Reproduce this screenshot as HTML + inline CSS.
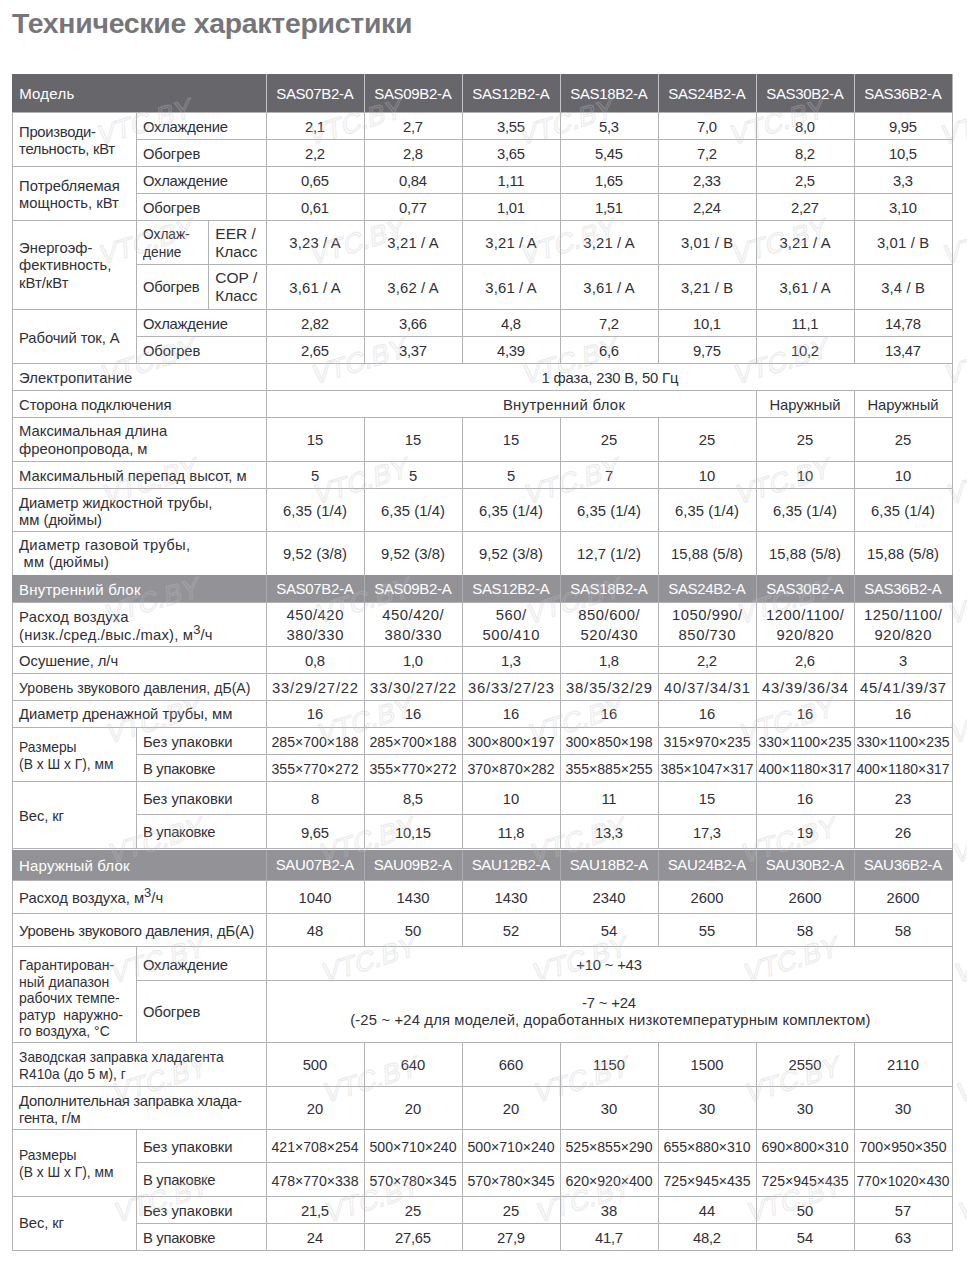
<!DOCTYPE html>
<html><head><meta charset="utf-8"><title>Технические характеристики</title>
<style>
html,body{margin:0;padding:0;background:#fff;}
body{width:967px;height:1277px;position:relative;overflow:hidden;font-family:"Liberation Sans",sans-serif;}
i{position:absolute;display:block;}
.wm{position:absolute;left:0;top:0;}
.t{position:absolute;font-size:14.8px;white-space:nowrap;}
.t sup{font-size:13px;line-height:0;vertical-align:6px;letter-spacing:0;}
h1{position:absolute;left:12px;top:6px;margin:0;font-size:28.4px;font-weight:bold;color:#75757a;letter-spacing:-0.26px;line-height:34px;white-space:nowrap;}
</style></head><body>
<h1>Технические характеристики</h1>
<i style="left:12px;top:74px;width:941px;height:38px;background:#67666b"></i>
<i style="left:266px;top:74px;width:1px;height:38px;background:#c4c4c8"></i>
<i style="left:364px;top:74px;width:1px;height:38px;background:#c4c4c8"></i>
<i style="left:462px;top:74px;width:1px;height:38px;background:#c4c4c8"></i>
<i style="left:560px;top:74px;width:1px;height:38px;background:#c4c4c8"></i>
<i style="left:658px;top:74px;width:1px;height:38px;background:#c4c4c8"></i>
<i style="left:756px;top:74px;width:1px;height:38px;background:#c4c4c8"></i>
<i style="left:854px;top:74px;width:1px;height:38px;background:#c4c4c8"></i>
<i style="left:12px;top:112px;width:1px;height:1139px;background:#b2b2b5"></i>
<i style="left:952px;top:74px;width:1px;height:1177px;background:#b2b2b5"></i>
<i style="left:12px;top:112px;width:941px;height:1px;background:#b2b2b5"></i>
<i style="left:136px;top:139px;width:817px;height:1px;background:#b2b2b5"></i>
<i style="left:136px;top:112px;width:1px;height:55px;background:#b2b2b5"></i>
<i style="left:266px;top:112px;width:1px;height:55px;background:#b2b2b5"></i>
<i style="left:364px;top:112px;width:1px;height:55px;background:#b2b2b5"></i>
<i style="left:462px;top:112px;width:1px;height:55px;background:#b2b2b5"></i>
<i style="left:560px;top:112px;width:1px;height:55px;background:#b2b2b5"></i>
<i style="left:658px;top:112px;width:1px;height:55px;background:#b2b2b5"></i>
<i style="left:756px;top:112px;width:1px;height:55px;background:#b2b2b5"></i>
<i style="left:854px;top:112px;width:1px;height:55px;background:#b2b2b5"></i>
<i style="left:952px;top:112px;width:1px;height:55px;background:#b2b2b5"></i>
<i style="left:12px;top:166px;width:941px;height:1px;background:#b2b2b5"></i>
<i style="left:136px;top:193px;width:817px;height:1px;background:#b2b2b5"></i>
<i style="left:136px;top:166px;width:1px;height:55px;background:#b2b2b5"></i>
<i style="left:266px;top:166px;width:1px;height:55px;background:#b2b2b5"></i>
<i style="left:364px;top:166px;width:1px;height:55px;background:#b2b2b5"></i>
<i style="left:462px;top:166px;width:1px;height:55px;background:#b2b2b5"></i>
<i style="left:560px;top:166px;width:1px;height:55px;background:#b2b2b5"></i>
<i style="left:658px;top:166px;width:1px;height:55px;background:#b2b2b5"></i>
<i style="left:756px;top:166px;width:1px;height:55px;background:#b2b2b5"></i>
<i style="left:854px;top:166px;width:1px;height:55px;background:#b2b2b5"></i>
<i style="left:952px;top:166px;width:1px;height:55px;background:#b2b2b5"></i>
<i style="left:12px;top:220px;width:941px;height:1px;background:#b2b2b5"></i>
<i style="left:136px;top:264px;width:817px;height:1px;background:#b2b2b5"></i>
<i style="left:136px;top:220px;width:1px;height:90px;background:#b2b2b5"></i>
<i style="left:208px;top:220px;width:1px;height:90px;background:#b2b2b5"></i>
<i style="left:266px;top:220px;width:1px;height:90px;background:#b2b2b5"></i>
<i style="left:364px;top:220px;width:1px;height:90px;background:#b2b2b5"></i>
<i style="left:462px;top:220px;width:1px;height:90px;background:#b2b2b5"></i>
<i style="left:560px;top:220px;width:1px;height:90px;background:#b2b2b5"></i>
<i style="left:658px;top:220px;width:1px;height:90px;background:#b2b2b5"></i>
<i style="left:756px;top:220px;width:1px;height:90px;background:#b2b2b5"></i>
<i style="left:854px;top:220px;width:1px;height:90px;background:#b2b2b5"></i>
<i style="left:952px;top:220px;width:1px;height:90px;background:#b2b2b5"></i>
<i style="left:12px;top:309px;width:941px;height:1px;background:#b2b2b5"></i>
<i style="left:136px;top:336px;width:817px;height:1px;background:#b2b2b5"></i>
<i style="left:136px;top:309px;width:1px;height:55px;background:#b2b2b5"></i>
<i style="left:266px;top:309px;width:1px;height:55px;background:#b2b2b5"></i>
<i style="left:364px;top:309px;width:1px;height:55px;background:#b2b2b5"></i>
<i style="left:462px;top:309px;width:1px;height:55px;background:#b2b2b5"></i>
<i style="left:560px;top:309px;width:1px;height:55px;background:#b2b2b5"></i>
<i style="left:658px;top:309px;width:1px;height:55px;background:#b2b2b5"></i>
<i style="left:756px;top:309px;width:1px;height:55px;background:#b2b2b5"></i>
<i style="left:854px;top:309px;width:1px;height:55px;background:#b2b2b5"></i>
<i style="left:952px;top:309px;width:1px;height:55px;background:#b2b2b5"></i>
<i style="left:12px;top:363px;width:941px;height:1px;background:#b2b2b5"></i>
<i style="left:266px;top:363px;width:1px;height:28px;background:#b2b2b5"></i>
<i style="left:12px;top:390px;width:941px;height:1px;background:#b2b2b5"></i>
<i style="left:266px;top:390px;width:1px;height:28px;background:#b2b2b5"></i>
<i style="left:756px;top:390px;width:1px;height:28px;background:#b2b2b5"></i>
<i style="left:854px;top:390px;width:1px;height:28px;background:#b2b2b5"></i>
<i style="left:12px;top:417px;width:941px;height:1px;background:#b2b2b5"></i>
<i style="left:266px;top:417px;width:1px;height:45px;background:#b2b2b5"></i>
<i style="left:364px;top:417px;width:1px;height:45px;background:#b2b2b5"></i>
<i style="left:462px;top:417px;width:1px;height:45px;background:#b2b2b5"></i>
<i style="left:560px;top:417px;width:1px;height:45px;background:#b2b2b5"></i>
<i style="left:658px;top:417px;width:1px;height:45px;background:#b2b2b5"></i>
<i style="left:756px;top:417px;width:1px;height:45px;background:#b2b2b5"></i>
<i style="left:854px;top:417px;width:1px;height:45px;background:#b2b2b5"></i>
<i style="left:952px;top:417px;width:1px;height:45px;background:#b2b2b5"></i>
<i style="left:12px;top:461px;width:941px;height:1px;background:#b2b2b5"></i>
<i style="left:266px;top:461px;width:1px;height:28px;background:#b2b2b5"></i>
<i style="left:364px;top:461px;width:1px;height:28px;background:#b2b2b5"></i>
<i style="left:462px;top:461px;width:1px;height:28px;background:#b2b2b5"></i>
<i style="left:560px;top:461px;width:1px;height:28px;background:#b2b2b5"></i>
<i style="left:658px;top:461px;width:1px;height:28px;background:#b2b2b5"></i>
<i style="left:756px;top:461px;width:1px;height:28px;background:#b2b2b5"></i>
<i style="left:854px;top:461px;width:1px;height:28px;background:#b2b2b5"></i>
<i style="left:952px;top:461px;width:1px;height:28px;background:#b2b2b5"></i>
<i style="left:12px;top:488px;width:941px;height:1px;background:#b2b2b5"></i>
<i style="left:266px;top:488px;width:1px;height:44px;background:#b2b2b5"></i>
<i style="left:364px;top:488px;width:1px;height:44px;background:#b2b2b5"></i>
<i style="left:462px;top:488px;width:1px;height:44px;background:#b2b2b5"></i>
<i style="left:560px;top:488px;width:1px;height:44px;background:#b2b2b5"></i>
<i style="left:658px;top:488px;width:1px;height:44px;background:#b2b2b5"></i>
<i style="left:756px;top:488px;width:1px;height:44px;background:#b2b2b5"></i>
<i style="left:854px;top:488px;width:1px;height:44px;background:#b2b2b5"></i>
<i style="left:952px;top:488px;width:1px;height:44px;background:#b2b2b5"></i>
<i style="left:12px;top:531px;width:941px;height:1px;background:#b2b2b5"></i>
<i style="left:266px;top:531px;width:1px;height:45px;background:#b2b2b5"></i>
<i style="left:364px;top:531px;width:1px;height:45px;background:#b2b2b5"></i>
<i style="left:462px;top:531px;width:1px;height:45px;background:#b2b2b5"></i>
<i style="left:560px;top:531px;width:1px;height:45px;background:#b2b2b5"></i>
<i style="left:658px;top:531px;width:1px;height:45px;background:#b2b2b5"></i>
<i style="left:756px;top:531px;width:1px;height:45px;background:#b2b2b5"></i>
<i style="left:854px;top:531px;width:1px;height:45px;background:#b2b2b5"></i>
<i style="left:952px;top:531px;width:1px;height:45px;background:#b2b2b5"></i>
<i style="left:12px;top:575px;width:941px;height:27px;background:#929297"></i>
<i style="left:266px;top:575px;width:1px;height:27px;background:#acacb0"></i>
<i style="left:364px;top:575px;width:1px;height:27px;background:#acacb0"></i>
<i style="left:462px;top:575px;width:1px;height:27px;background:#acacb0"></i>
<i style="left:560px;top:575px;width:1px;height:27px;background:#acacb0"></i>
<i style="left:658px;top:575px;width:1px;height:27px;background:#acacb0"></i>
<i style="left:756px;top:575px;width:1px;height:27px;background:#acacb0"></i>
<i style="left:854px;top:575px;width:1px;height:27px;background:#acacb0"></i>
<i style="left:12px;top:602px;width:941px;height:1px;background:#b2b2b5"></i>
<i style="left:266px;top:602px;width:1px;height:45px;background:#b2b2b5"></i>
<i style="left:364px;top:602px;width:1px;height:45px;background:#b2b2b5"></i>
<i style="left:462px;top:602px;width:1px;height:45px;background:#b2b2b5"></i>
<i style="left:560px;top:602px;width:1px;height:45px;background:#b2b2b5"></i>
<i style="left:658px;top:602px;width:1px;height:45px;background:#b2b2b5"></i>
<i style="left:756px;top:602px;width:1px;height:45px;background:#b2b2b5"></i>
<i style="left:854px;top:602px;width:1px;height:45px;background:#b2b2b5"></i>
<i style="left:952px;top:602px;width:1px;height:45px;background:#b2b2b5"></i>
<i style="left:12px;top:646px;width:941px;height:1px;background:#b2b2b5"></i>
<i style="left:266px;top:646px;width:1px;height:28px;background:#b2b2b5"></i>
<i style="left:364px;top:646px;width:1px;height:28px;background:#b2b2b5"></i>
<i style="left:462px;top:646px;width:1px;height:28px;background:#b2b2b5"></i>
<i style="left:560px;top:646px;width:1px;height:28px;background:#b2b2b5"></i>
<i style="left:658px;top:646px;width:1px;height:28px;background:#b2b2b5"></i>
<i style="left:756px;top:646px;width:1px;height:28px;background:#b2b2b5"></i>
<i style="left:854px;top:646px;width:1px;height:28px;background:#b2b2b5"></i>
<i style="left:952px;top:646px;width:1px;height:28px;background:#b2b2b5"></i>
<i style="left:12px;top:673px;width:941px;height:1px;background:#b2b2b5"></i>
<i style="left:266px;top:673px;width:1px;height:28px;background:#b2b2b5"></i>
<i style="left:364px;top:673px;width:1px;height:28px;background:#b2b2b5"></i>
<i style="left:462px;top:673px;width:1px;height:28px;background:#b2b2b5"></i>
<i style="left:560px;top:673px;width:1px;height:28px;background:#b2b2b5"></i>
<i style="left:658px;top:673px;width:1px;height:28px;background:#b2b2b5"></i>
<i style="left:756px;top:673px;width:1px;height:28px;background:#b2b2b5"></i>
<i style="left:854px;top:673px;width:1px;height:28px;background:#b2b2b5"></i>
<i style="left:952px;top:673px;width:1px;height:28px;background:#b2b2b5"></i>
<i style="left:12px;top:700px;width:941px;height:1px;background:#b2b2b5"></i>
<i style="left:266px;top:700px;width:1px;height:28px;background:#b2b2b5"></i>
<i style="left:364px;top:700px;width:1px;height:28px;background:#b2b2b5"></i>
<i style="left:462px;top:700px;width:1px;height:28px;background:#b2b2b5"></i>
<i style="left:560px;top:700px;width:1px;height:28px;background:#b2b2b5"></i>
<i style="left:658px;top:700px;width:1px;height:28px;background:#b2b2b5"></i>
<i style="left:756px;top:700px;width:1px;height:28px;background:#b2b2b5"></i>
<i style="left:854px;top:700px;width:1px;height:28px;background:#b2b2b5"></i>
<i style="left:952px;top:700px;width:1px;height:28px;background:#b2b2b5"></i>
<i style="left:12px;top:727px;width:941px;height:1px;background:#b2b2b5"></i>
<i style="left:136px;top:754px;width:817px;height:1px;background:#b2b2b5"></i>
<i style="left:136px;top:727px;width:1px;height:55px;background:#b2b2b5"></i>
<i style="left:266px;top:727px;width:1px;height:55px;background:#b2b2b5"></i>
<i style="left:364px;top:727px;width:1px;height:55px;background:#b2b2b5"></i>
<i style="left:462px;top:727px;width:1px;height:55px;background:#b2b2b5"></i>
<i style="left:560px;top:727px;width:1px;height:55px;background:#b2b2b5"></i>
<i style="left:658px;top:727px;width:1px;height:55px;background:#b2b2b5"></i>
<i style="left:756px;top:727px;width:1px;height:55px;background:#b2b2b5"></i>
<i style="left:854px;top:727px;width:1px;height:55px;background:#b2b2b5"></i>
<i style="left:952px;top:727px;width:1px;height:55px;background:#b2b2b5"></i>
<i style="left:12px;top:781px;width:941px;height:1px;background:#b2b2b5"></i>
<i style="left:136px;top:814px;width:817px;height:1px;background:#b2b2b5"></i>
<i style="left:136px;top:781px;width:1px;height:68px;background:#b2b2b5"></i>
<i style="left:266px;top:781px;width:1px;height:68px;background:#b2b2b5"></i>
<i style="left:364px;top:781px;width:1px;height:68px;background:#b2b2b5"></i>
<i style="left:462px;top:781px;width:1px;height:68px;background:#b2b2b5"></i>
<i style="left:560px;top:781px;width:1px;height:68px;background:#b2b2b5"></i>
<i style="left:658px;top:781px;width:1px;height:68px;background:#b2b2b5"></i>
<i style="left:756px;top:781px;width:1px;height:68px;background:#b2b2b5"></i>
<i style="left:854px;top:781px;width:1px;height:68px;background:#b2b2b5"></i>
<i style="left:952px;top:781px;width:1px;height:68px;background:#b2b2b5"></i>
<i style="left:12px;top:848px;width:941px;height:1px;background:#b2b2b5"></i>
<i style="left:12px;top:850px;width:941px;height:30px;background:#929297"></i>
<i style="left:266px;top:850px;width:1px;height:30px;background:#acacb0"></i>
<i style="left:364px;top:850px;width:1px;height:30px;background:#acacb0"></i>
<i style="left:462px;top:850px;width:1px;height:30px;background:#acacb0"></i>
<i style="left:560px;top:850px;width:1px;height:30px;background:#acacb0"></i>
<i style="left:658px;top:850px;width:1px;height:30px;background:#acacb0"></i>
<i style="left:756px;top:850px;width:1px;height:30px;background:#acacb0"></i>
<i style="left:854px;top:850px;width:1px;height:30px;background:#acacb0"></i>
<i style="left:12px;top:880px;width:941px;height:1px;background:#b2b2b5"></i>
<i style="left:266px;top:880px;width:1px;height:34px;background:#b2b2b5"></i>
<i style="left:364px;top:880px;width:1px;height:34px;background:#b2b2b5"></i>
<i style="left:462px;top:880px;width:1px;height:34px;background:#b2b2b5"></i>
<i style="left:560px;top:880px;width:1px;height:34px;background:#b2b2b5"></i>
<i style="left:658px;top:880px;width:1px;height:34px;background:#b2b2b5"></i>
<i style="left:756px;top:880px;width:1px;height:34px;background:#b2b2b5"></i>
<i style="left:854px;top:880px;width:1px;height:34px;background:#b2b2b5"></i>
<i style="left:952px;top:880px;width:1px;height:34px;background:#b2b2b5"></i>
<i style="left:12px;top:913px;width:941px;height:1px;background:#b2b2b5"></i>
<i style="left:266px;top:913px;width:1px;height:34px;background:#b2b2b5"></i>
<i style="left:364px;top:913px;width:1px;height:34px;background:#b2b2b5"></i>
<i style="left:462px;top:913px;width:1px;height:34px;background:#b2b2b5"></i>
<i style="left:560px;top:913px;width:1px;height:34px;background:#b2b2b5"></i>
<i style="left:658px;top:913px;width:1px;height:34px;background:#b2b2b5"></i>
<i style="left:756px;top:913px;width:1px;height:34px;background:#b2b2b5"></i>
<i style="left:854px;top:913px;width:1px;height:34px;background:#b2b2b5"></i>
<i style="left:952px;top:913px;width:1px;height:34px;background:#b2b2b5"></i>
<i style="left:12px;top:946px;width:941px;height:1px;background:#b2b2b5"></i>
<i style="left:136px;top:980px;width:817px;height:1px;background:#b2b2b5"></i>
<i style="left:136px;top:946px;width:1px;height:97px;background:#b2b2b5"></i>
<i style="left:266px;top:946px;width:1px;height:97px;background:#b2b2b5"></i>
<i style="left:12px;top:1042px;width:941px;height:1px;background:#b2b2b5"></i>
<i style="left:266px;top:1042px;width:1px;height:45px;background:#b2b2b5"></i>
<i style="left:364px;top:1042px;width:1px;height:45px;background:#b2b2b5"></i>
<i style="left:462px;top:1042px;width:1px;height:45px;background:#b2b2b5"></i>
<i style="left:560px;top:1042px;width:1px;height:45px;background:#b2b2b5"></i>
<i style="left:658px;top:1042px;width:1px;height:45px;background:#b2b2b5"></i>
<i style="left:756px;top:1042px;width:1px;height:45px;background:#b2b2b5"></i>
<i style="left:854px;top:1042px;width:1px;height:45px;background:#b2b2b5"></i>
<i style="left:952px;top:1042px;width:1px;height:45px;background:#b2b2b5"></i>
<i style="left:12px;top:1086px;width:941px;height:1px;background:#b2b2b5"></i>
<i style="left:266px;top:1086px;width:1px;height:44px;background:#b2b2b5"></i>
<i style="left:364px;top:1086px;width:1px;height:44px;background:#b2b2b5"></i>
<i style="left:462px;top:1086px;width:1px;height:44px;background:#b2b2b5"></i>
<i style="left:560px;top:1086px;width:1px;height:44px;background:#b2b2b5"></i>
<i style="left:658px;top:1086px;width:1px;height:44px;background:#b2b2b5"></i>
<i style="left:756px;top:1086px;width:1px;height:44px;background:#b2b2b5"></i>
<i style="left:854px;top:1086px;width:1px;height:44px;background:#b2b2b5"></i>
<i style="left:952px;top:1086px;width:1px;height:44px;background:#b2b2b5"></i>
<i style="left:12px;top:1129px;width:941px;height:1px;background:#b2b2b5"></i>
<i style="left:136px;top:1162px;width:817px;height:1px;background:#b2b2b5"></i>
<i style="left:136px;top:1129px;width:1px;height:68px;background:#b2b2b5"></i>
<i style="left:266px;top:1129px;width:1px;height:68px;background:#b2b2b5"></i>
<i style="left:364px;top:1129px;width:1px;height:68px;background:#b2b2b5"></i>
<i style="left:462px;top:1129px;width:1px;height:68px;background:#b2b2b5"></i>
<i style="left:560px;top:1129px;width:1px;height:68px;background:#b2b2b5"></i>
<i style="left:658px;top:1129px;width:1px;height:68px;background:#b2b2b5"></i>
<i style="left:756px;top:1129px;width:1px;height:68px;background:#b2b2b5"></i>
<i style="left:854px;top:1129px;width:1px;height:68px;background:#b2b2b5"></i>
<i style="left:952px;top:1129px;width:1px;height:68px;background:#b2b2b5"></i>
<i style="left:12px;top:1196px;width:941px;height:1px;background:#b2b2b5"></i>
<i style="left:136px;top:1223px;width:817px;height:1px;background:#b2b2b5"></i>
<i style="left:136px;top:1196px;width:1px;height:55px;background:#b2b2b5"></i>
<i style="left:266px;top:1196px;width:1px;height:55px;background:#b2b2b5"></i>
<i style="left:364px;top:1196px;width:1px;height:55px;background:#b2b2b5"></i>
<i style="left:462px;top:1196px;width:1px;height:55px;background:#b2b2b5"></i>
<i style="left:560px;top:1196px;width:1px;height:55px;background:#b2b2b5"></i>
<i style="left:658px;top:1196px;width:1px;height:55px;background:#b2b2b5"></i>
<i style="left:756px;top:1196px;width:1px;height:55px;background:#b2b2b5"></i>
<i style="left:854px;top:1196px;width:1px;height:55px;background:#b2b2b5"></i>
<i style="left:952px;top:1196px;width:1px;height:55px;background:#b2b2b5"></i>
<i style="left:12px;top:1250px;width:941px;height:1px;background:#b2b2b5"></i>
<div class="t" style="top:85px;line-height:17px;color:#ffffff;font-size:15px;letter-spacing:0.25px;left:19.20px;">Модель</div>
<div class="t" style="top:85px;line-height:17px;color:#ffffff;font-size:15px;letter-spacing:-0.31px;left:214.85px;width:200px;text-align:center;">SAS07B2-A</div>
<div class="t" style="top:85px;line-height:17px;color:#ffffff;font-size:15px;letter-spacing:-0.31px;left:312.85px;width:200px;text-align:center;">SAS09B2-A</div>
<div class="t" style="top:85px;line-height:17px;color:#ffffff;font-size:15px;letter-spacing:-0.31px;left:410.85px;width:200px;text-align:center;">SAS12B2-A</div>
<div class="t" style="top:85px;line-height:17px;color:#ffffff;font-size:15px;letter-spacing:-0.31px;left:508.85px;width:200px;text-align:center;">SAS18B2-A</div>
<div class="t" style="top:85px;line-height:17px;color:#ffffff;font-size:15px;letter-spacing:-0.31px;left:606.85px;width:200px;text-align:center;">SAS24B2-A</div>
<div class="t" style="top:85px;line-height:17px;color:#ffffff;font-size:15px;letter-spacing:-0.31px;left:704.85px;width:200px;text-align:center;">SAS30B2-A</div>
<div class="t" style="top:85px;line-height:17px;color:#ffffff;font-size:15px;letter-spacing:-0.31px;left:802.85px;width:200px;text-align:center;">SAS36B2-A</div>
<div class="t" style="top:124px;line-height:17px;color:#2f2f37;letter-spacing:-0.30px;left:19.10px;">Производи-<br>тельность, кВт</div>
<div class="t" style="top:119px;line-height:17px;color:#2f2f37;letter-spacing:-0.22px;left:142.90px;">Охлаждение</div>
<div class="t" style="top:146px;line-height:17px;color:#2f2f37;letter-spacing:-0.09px;left:142.90px;">Обогрев</div>
<div class="t" style="top:119px;line-height:17px;color:#2f2f37;letter-spacing:-0.20px;left:214.90px;width:200px;text-align:center;">2,1</div>
<div class="t" style="top:119px;line-height:17px;color:#2f2f37;letter-spacing:-0.20px;left:312.90px;width:200px;text-align:center;">2,7</div>
<div class="t" style="top:119px;line-height:17px;color:#2f2f37;letter-spacing:-0.20px;left:410.90px;width:200px;text-align:center;">3,55</div>
<div class="t" style="top:119px;line-height:17px;color:#2f2f37;letter-spacing:-0.20px;left:508.90px;width:200px;text-align:center;">5,3</div>
<div class="t" style="top:119px;line-height:17px;color:#2f2f37;letter-spacing:-0.20px;left:606.90px;width:200px;text-align:center;">7,0</div>
<div class="t" style="top:119px;line-height:17px;color:#2f2f37;letter-spacing:-0.20px;left:704.90px;width:200px;text-align:center;">8,0</div>
<div class="t" style="top:119px;line-height:17px;color:#2f2f37;letter-spacing:-0.20px;left:802.90px;width:200px;text-align:center;">9,95</div>
<div class="t" style="top:146px;line-height:17px;color:#2f2f37;letter-spacing:-0.20px;left:214.90px;width:200px;text-align:center;">2,2</div>
<div class="t" style="top:146px;line-height:17px;color:#2f2f37;letter-spacing:-0.20px;left:312.90px;width:200px;text-align:center;">2,8</div>
<div class="t" style="top:146px;line-height:17px;color:#2f2f37;letter-spacing:-0.20px;left:410.90px;width:200px;text-align:center;">3,65</div>
<div class="t" style="top:146px;line-height:17px;color:#2f2f37;letter-spacing:-0.20px;left:508.90px;width:200px;text-align:center;">5,45</div>
<div class="t" style="top:146px;line-height:17px;color:#2f2f37;letter-spacing:-0.20px;left:606.90px;width:200px;text-align:center;">7,2</div>
<div class="t" style="top:146px;line-height:17px;color:#2f2f37;letter-spacing:-0.20px;left:704.90px;width:200px;text-align:center;">8,2</div>
<div class="t" style="top:146px;line-height:17px;color:#2f2f37;letter-spacing:-0.20px;left:802.90px;width:200px;text-align:center;">10,5</div>
<div class="t" style="top:178px;line-height:17px;color:#2f2f37;left:19.10px;">Потребляемая<br>мощность, кВт</div>
<div class="t" style="top:173px;line-height:17px;color:#2f2f37;letter-spacing:-0.22px;left:142.90px;">Охлаждение</div>
<div class="t" style="top:200px;line-height:17px;color:#2f2f37;letter-spacing:-0.09px;left:142.90px;">Обогрев</div>
<div class="t" style="top:173px;line-height:17px;color:#2f2f37;letter-spacing:-0.20px;left:214.90px;width:200px;text-align:center;">0,65</div>
<div class="t" style="top:173px;line-height:17px;color:#2f2f37;letter-spacing:-0.20px;left:312.90px;width:200px;text-align:center;">0,84</div>
<div class="t" style="top:173px;line-height:17px;color:#2f2f37;letter-spacing:-0.20px;left:410.90px;width:200px;text-align:center;">1,11</div>
<div class="t" style="top:173px;line-height:17px;color:#2f2f37;letter-spacing:-0.20px;left:508.90px;width:200px;text-align:center;">1,65</div>
<div class="t" style="top:173px;line-height:17px;color:#2f2f37;letter-spacing:-0.20px;left:606.90px;width:200px;text-align:center;">2,33</div>
<div class="t" style="top:173px;line-height:17px;color:#2f2f37;letter-spacing:-0.20px;left:704.90px;width:200px;text-align:center;">2,5</div>
<div class="t" style="top:173px;line-height:17px;color:#2f2f37;letter-spacing:-0.20px;left:802.90px;width:200px;text-align:center;">3,3</div>
<div class="t" style="top:200px;line-height:17px;color:#2f2f37;letter-spacing:-0.20px;left:214.90px;width:200px;text-align:center;">0,61</div>
<div class="t" style="top:200px;line-height:17px;color:#2f2f37;letter-spacing:-0.20px;left:312.90px;width:200px;text-align:center;">0,77</div>
<div class="t" style="top:200px;line-height:17px;color:#2f2f37;letter-spacing:-0.20px;left:410.90px;width:200px;text-align:center;">1,01</div>
<div class="t" style="top:200px;line-height:17px;color:#2f2f37;letter-spacing:-0.20px;left:508.90px;width:200px;text-align:center;">1,51</div>
<div class="t" style="top:200px;line-height:17px;color:#2f2f37;letter-spacing:-0.20px;left:606.90px;width:200px;text-align:center;">2,24</div>
<div class="t" style="top:200px;line-height:17px;color:#2f2f37;letter-spacing:-0.20px;left:704.90px;width:200px;text-align:center;">2,27</div>
<div class="t" style="top:200px;line-height:17px;color:#2f2f37;letter-spacing:-0.20px;left:802.90px;width:200px;text-align:center;">3,10</div>
<div class="t" style="top:240px;line-height:17.3px;color:#2f2f37;left:19.10px;">Энергоэф-<br>фективность,<br>кВт/кВт</div>
<div class="t" style="top:226px;line-height:17.5px;color:#2f2f37;left:142.90px;transform:scaleX(0.924);transform-origin:1px 0;">Охлаж-<br>дение</div>
<div class="t" style="top:225px;line-height:17.6px;color:#2f2f37;font-size:15.5px;left:215.30px;">EER /<br>Класс</div>
<div class="t" style="top:279px;line-height:17px;color:#2f2f37;letter-spacing:-0.19px;left:142.90px;">Обогрев</div>
<div class="t" style="top:269px;line-height:17.5px;color:#2f2f37;font-size:15.5px;left:215.30px;">COP /<br>Класс</div>
<div class="t" style="top:235px;line-height:17px;color:#2f2f37;letter-spacing:0.15px;left:215.07px;width:200px;text-align:center;">3,23 / A</div>
<div class="t" style="top:235px;line-height:17px;color:#2f2f37;letter-spacing:0.15px;left:313.07px;width:200px;text-align:center;">3,21 / A</div>
<div class="t" style="top:235px;line-height:17px;color:#2f2f37;letter-spacing:0.15px;left:411.07px;width:200px;text-align:center;">3,21 / A</div>
<div class="t" style="top:235px;line-height:17px;color:#2f2f37;letter-spacing:0.15px;left:509.07px;width:200px;text-align:center;">3,21 / A</div>
<div class="t" style="top:235px;line-height:17px;color:#2f2f37;letter-spacing:0.15px;left:607.08px;width:200px;text-align:center;">3,01 / B</div>
<div class="t" style="top:235px;line-height:17px;color:#2f2f37;letter-spacing:0.15px;left:705.08px;width:200px;text-align:center;">3,21 / A</div>
<div class="t" style="top:235px;line-height:17px;color:#2f2f37;letter-spacing:0.15px;left:803.08px;width:200px;text-align:center;">3,01 / B</div>
<div class="t" style="top:280px;line-height:17px;color:#2f2f37;letter-spacing:0.15px;left:215.07px;width:200px;text-align:center;">3,61 / A</div>
<div class="t" style="top:280px;line-height:17px;color:#2f2f37;letter-spacing:0.15px;left:313.07px;width:200px;text-align:center;">3,62 / A</div>
<div class="t" style="top:280px;line-height:17px;color:#2f2f37;letter-spacing:0.15px;left:411.07px;width:200px;text-align:center;">3,61 / A</div>
<div class="t" style="top:280px;line-height:17px;color:#2f2f37;letter-spacing:0.15px;left:509.07px;width:200px;text-align:center;">3,61 / A</div>
<div class="t" style="top:280px;line-height:17px;color:#2f2f37;letter-spacing:0.15px;left:607.08px;width:200px;text-align:center;">3,21 / B</div>
<div class="t" style="top:280px;line-height:17px;color:#2f2f37;letter-spacing:0.15px;left:705.08px;width:200px;text-align:center;">3,61 / A</div>
<div class="t" style="top:280px;line-height:17px;color:#2f2f37;letter-spacing:0.15px;left:803.08px;width:200px;text-align:center;">3,4 / B</div>
<div class="t" style="top:330px;line-height:17px;color:#2f2f37;letter-spacing:-0.10px;left:19.10px;">Рабочий ток, А</div>
<div class="t" style="top:316px;line-height:17px;color:#2f2f37;letter-spacing:-0.22px;left:142.90px;">Охлаждение</div>
<div class="t" style="top:343px;line-height:17px;color:#2f2f37;letter-spacing:-0.09px;left:142.90px;">Обогрев</div>
<div class="t" style="top:316px;line-height:17px;color:#2f2f37;letter-spacing:-0.20px;left:214.90px;width:200px;text-align:center;">2,82</div>
<div class="t" style="top:316px;line-height:17px;color:#2f2f37;letter-spacing:-0.20px;left:312.90px;width:200px;text-align:center;">3,66</div>
<div class="t" style="top:316px;line-height:17px;color:#2f2f37;letter-spacing:-0.20px;left:410.90px;width:200px;text-align:center;">4,8</div>
<div class="t" style="top:316px;line-height:17px;color:#2f2f37;letter-spacing:-0.20px;left:508.90px;width:200px;text-align:center;">7,2</div>
<div class="t" style="top:316px;line-height:17px;color:#2f2f37;letter-spacing:-0.20px;left:606.90px;width:200px;text-align:center;">10,1</div>
<div class="t" style="top:316px;line-height:17px;color:#2f2f37;letter-spacing:-0.20px;left:704.90px;width:200px;text-align:center;">11,1</div>
<div class="t" style="top:316px;line-height:17px;color:#2f2f37;letter-spacing:-0.20px;left:802.90px;width:200px;text-align:center;">14,78</div>
<div class="t" style="top:343px;line-height:17px;color:#2f2f37;letter-spacing:-0.20px;left:214.90px;width:200px;text-align:center;">2,65</div>
<div class="t" style="top:343px;line-height:17px;color:#2f2f37;letter-spacing:-0.20px;left:312.90px;width:200px;text-align:center;">3,37</div>
<div class="t" style="top:343px;line-height:17px;color:#2f2f37;letter-spacing:-0.20px;left:410.90px;width:200px;text-align:center;">4,39</div>
<div class="t" style="top:343px;line-height:17px;color:#2f2f37;letter-spacing:-0.20px;left:508.90px;width:200px;text-align:center;">6,6</div>
<div class="t" style="top:343px;line-height:17px;color:#2f2f37;letter-spacing:-0.20px;left:606.90px;width:200px;text-align:center;">9,75</div>
<div class="t" style="top:343px;line-height:17px;color:#2f2f37;letter-spacing:-0.20px;left:704.90px;width:200px;text-align:center;">10,2</div>
<div class="t" style="top:343px;line-height:17px;color:#2f2f37;letter-spacing:-0.20px;left:802.90px;width:200px;text-align:center;">13,47</div>
<div class="t" style="top:370px;line-height:17px;color:#2f2f37;letter-spacing:0.03px;left:19.10px;">Электропитание</div>
<div class="t" style="top:370px;line-height:17px;color:#2f2f37;letter-spacing:-0.15px;left:259.93px;width:700px;text-align:center;">1 фаза, 230 В, 50 Гц</div>
<div class="t" style="top:397px;line-height:17px;color:#2f2f37;letter-spacing:-0.06px;left:19.10px;">Сторона подключения</div>
<div class="t" style="top:397px;line-height:17px;color:#2f2f37;letter-spacing:0.36px;left:502.90px;">Внутренний блок</div>
<div class="t" style="top:397px;line-height:17px;color:#2f2f37;letter-spacing:-0.07px;left:704.96px;width:200px;text-align:center;">Наружный</div>
<div class="t" style="top:397px;line-height:17px;color:#2f2f37;letter-spacing:-0.07px;left:802.96px;width:200px;text-align:center;">Наружный</div>
<div class="t" style="top:423px;line-height:17.5px;color:#2f2f37;letter-spacing:-0.01px;left:19.10px;">Максимальная длина<br>фреонопровода, м</div>
<div class="t" style="top:432px;line-height:17px;color:#2f2f37;left:215.00px;width:200px;text-align:center;">15</div>
<div class="t" style="top:432px;line-height:17px;color:#2f2f37;left:313.00px;width:200px;text-align:center;">15</div>
<div class="t" style="top:432px;line-height:17px;color:#2f2f37;left:411.00px;width:200px;text-align:center;">15</div>
<div class="t" style="top:432px;line-height:17px;color:#2f2f37;left:509.00px;width:200px;text-align:center;">25</div>
<div class="t" style="top:432px;line-height:17px;color:#2f2f37;left:607.00px;width:200px;text-align:center;">25</div>
<div class="t" style="top:432px;line-height:17px;color:#2f2f37;left:705.00px;width:200px;text-align:center;">25</div>
<div class="t" style="top:432px;line-height:17px;color:#2f2f37;left:803.00px;width:200px;text-align:center;">25</div>
<div class="t" style="top:468px;line-height:17px;color:#2f2f37;letter-spacing:-0.02px;left:19.10px;">Максимальный перепад высот, м</div>
<div class="t" style="top:468px;line-height:17px;color:#2f2f37;left:215.00px;width:200px;text-align:center;">5</div>
<div class="t" style="top:468px;line-height:17px;color:#2f2f37;left:313.00px;width:200px;text-align:center;">5</div>
<div class="t" style="top:468px;line-height:17px;color:#2f2f37;left:411.00px;width:200px;text-align:center;">5</div>
<div class="t" style="top:468px;line-height:17px;color:#2f2f37;left:509.00px;width:200px;text-align:center;">7</div>
<div class="t" style="top:468px;line-height:17px;color:#2f2f37;left:607.00px;width:200px;text-align:center;">10</div>
<div class="t" style="top:468px;line-height:17px;color:#2f2f37;left:705.00px;width:200px;text-align:center;">10</div>
<div class="t" style="top:468px;line-height:17px;color:#2f2f37;left:803.00px;width:200px;text-align:center;">10</div>
<div class="t" style="top:495px;line-height:17.4px;color:#2f2f37;letter-spacing:-0.02px;left:19.10px;">Диаметр жидкостной трубы,<br>мм (дюймы)</div>
<div class="t" style="top:503px;line-height:17px;color:#2f2f37;letter-spacing:0.05px;left:215.03px;width:200px;text-align:center;">6,35 (1/4)</div>
<div class="t" style="top:503px;line-height:17px;color:#2f2f37;letter-spacing:0.05px;left:313.02px;width:200px;text-align:center;">6,35 (1/4)</div>
<div class="t" style="top:503px;line-height:17px;color:#2f2f37;letter-spacing:0.05px;left:411.02px;width:200px;text-align:center;">6,35 (1/4)</div>
<div class="t" style="top:503px;line-height:17px;color:#2f2f37;letter-spacing:0.05px;left:509.02px;width:200px;text-align:center;">6,35 (1/4)</div>
<div class="t" style="top:503px;line-height:17px;color:#2f2f37;letter-spacing:0.05px;left:607.02px;width:200px;text-align:center;">6,35 (1/4)</div>
<div class="t" style="top:503px;line-height:17px;color:#2f2f37;letter-spacing:0.05px;left:705.02px;width:200px;text-align:center;">6,35 (1/4)</div>
<div class="t" style="top:503px;line-height:17px;color:#2f2f37;letter-spacing:0.05px;left:803.02px;width:200px;text-align:center;">6,35 (1/4)</div>
<div class="t" style="top:537px;line-height:17.4px;color:#2f2f37;letter-spacing:0.26px;left:19.10px;">Диаметр газовой трубы,<br>&nbsp;мм (дюймы)</div>
<div class="t" style="top:546px;line-height:17px;color:#2f2f37;letter-spacing:0.05px;left:215.03px;width:200px;text-align:center;">9,52 (3/8)</div>
<div class="t" style="top:546px;line-height:17px;color:#2f2f37;letter-spacing:0.05px;left:313.02px;width:200px;text-align:center;">9,52 (3/8)</div>
<div class="t" style="top:546px;line-height:17px;color:#2f2f37;letter-spacing:0.05px;left:411.02px;width:200px;text-align:center;">9,52 (3/8)</div>
<div class="t" style="top:546px;line-height:17px;color:#2f2f37;letter-spacing:0.05px;left:509.02px;width:200px;text-align:center;">12,7 (1/2)</div>
<div class="t" style="top:546px;line-height:17px;color:#2f2f37;letter-spacing:0.05px;left:607.02px;width:200px;text-align:center;">15,88 (5/8)</div>
<div class="t" style="top:546px;line-height:17px;color:#2f2f37;letter-spacing:0.05px;left:705.02px;width:200px;text-align:center;">15,88 (5/8)</div>
<div class="t" style="top:546px;line-height:17px;color:#2f2f37;letter-spacing:0.05px;left:803.02px;width:200px;text-align:center;">15,88 (5/8)</div>
<div class="t" style="top:581px;line-height:17px;color:#ffffff;font-size:15px;letter-spacing:0.20px;left:19.10px;">Внутренний блок</div>
<div class="t" style="top:580px;line-height:17px;color:#ffffff;font-size:15px;letter-spacing:-0.32px;left:214.84px;width:200px;text-align:center;">SAS07B2-A</div>
<div class="t" style="top:580px;line-height:17px;color:#ffffff;font-size:15px;letter-spacing:-0.32px;left:312.84px;width:200px;text-align:center;">SAS09B2-A</div>
<div class="t" style="top:580px;line-height:17px;color:#ffffff;font-size:15px;letter-spacing:-0.32px;left:410.84px;width:200px;text-align:center;">SAS12B2-A</div>
<div class="t" style="top:580px;line-height:17px;color:#ffffff;font-size:15px;letter-spacing:-0.32px;left:508.84px;width:200px;text-align:center;">SAS18B2-A</div>
<div class="t" style="top:580px;line-height:17px;color:#ffffff;font-size:15px;letter-spacing:-0.32px;left:606.84px;width:200px;text-align:center;">SAS24B2-A</div>
<div class="t" style="top:580px;line-height:17px;color:#ffffff;font-size:15px;letter-spacing:-0.32px;left:704.84px;width:200px;text-align:center;">SAS30B2-A</div>
<div class="t" style="top:580px;line-height:17px;color:#ffffff;font-size:15px;letter-spacing:-0.32px;left:802.84px;width:200px;text-align:center;">SAS36B2-A</div>
<div class="t" style="top:609px;line-height:17.5px;color:#2f2f37;letter-spacing:0.22px;left:19.10px;">Расход воздуха<br>(низк./сред./выс./max), м<sup>3</sup>/ч</div>
<div class="t" style="top:605px;line-height:20.2px;color:#2f2f37;letter-spacing:0.55px;left:215.28px;width:200px;text-align:center;">450/420<br>380/330</div>
<div class="t" style="top:605px;line-height:20.2px;color:#2f2f37;letter-spacing:0.55px;left:313.27px;width:200px;text-align:center;">450/420/<br>380/330</div>
<div class="t" style="top:605px;line-height:20.2px;color:#2f2f37;letter-spacing:0.55px;left:411.27px;width:200px;text-align:center;">560/<br>500/410</div>
<div class="t" style="top:605px;line-height:20.2px;color:#2f2f37;letter-spacing:0.55px;left:509.27px;width:200px;text-align:center;">850/600/<br>520/430</div>
<div class="t" style="top:605px;line-height:20.2px;color:#2f2f37;letter-spacing:0.55px;left:607.27px;width:200px;text-align:center;">1050/990/<br>850/730</div>
<div class="t" style="top:605px;line-height:20.2px;color:#2f2f37;letter-spacing:0.55px;left:705.27px;width:200px;text-align:center;">1200/1100/<br>920/820</div>
<div class="t" style="top:605px;line-height:20.2px;color:#2f2f37;letter-spacing:0.55px;left:803.27px;width:200px;text-align:center;">1250/1100/<br>920/820</div>
<div class="t" style="top:653px;line-height:17px;color:#2f2f37;letter-spacing:-0.06px;left:19.10px;">Осушение, л/ч</div>
<div class="t" style="top:653px;line-height:17px;color:#2f2f37;letter-spacing:-0.20px;left:214.90px;width:200px;text-align:center;">0,8</div>
<div class="t" style="top:653px;line-height:17px;color:#2f2f37;letter-spacing:-0.20px;left:312.90px;width:200px;text-align:center;">1,0</div>
<div class="t" style="top:653px;line-height:17px;color:#2f2f37;letter-spacing:-0.20px;left:410.90px;width:200px;text-align:center;">1,3</div>
<div class="t" style="top:653px;line-height:17px;color:#2f2f37;letter-spacing:-0.20px;left:508.90px;width:200px;text-align:center;">1,8</div>
<div class="t" style="top:653px;line-height:17px;color:#2f2f37;letter-spacing:-0.20px;left:606.90px;width:200px;text-align:center;">2,2</div>
<div class="t" style="top:653px;line-height:17px;color:#2f2f37;letter-spacing:-0.20px;left:704.90px;width:200px;text-align:center;">2,6</div>
<div class="t" style="top:653px;line-height:17px;color:#2f2f37;letter-spacing:-0.20px;left:802.90px;width:200px;text-align:center;">3</div>
<div class="t" style="top:680px;line-height:17px;color:#2f2f37;left:19.10px;transform:scaleX(0.952);transform-origin:1px 0;">Уровень звукового давления, дБ(А)</div>
<div class="t" style="top:680px;line-height:17px;color:#2f2f37;letter-spacing:0.80px;left:215.40px;width:200px;text-align:center;">33/29/27/22</div>
<div class="t" style="top:680px;line-height:17px;color:#2f2f37;letter-spacing:0.80px;left:313.40px;width:200px;text-align:center;">33/30/27/22</div>
<div class="t" style="top:680px;line-height:17px;color:#2f2f37;letter-spacing:0.80px;left:411.40px;width:200px;text-align:center;">36/33/27/23</div>
<div class="t" style="top:680px;line-height:17px;color:#2f2f37;letter-spacing:0.80px;left:509.40px;width:200px;text-align:center;">38/35/32/29</div>
<div class="t" style="top:680px;line-height:17px;color:#2f2f37;letter-spacing:0.80px;left:607.40px;width:200px;text-align:center;">40/37/34/31</div>
<div class="t" style="top:680px;line-height:17px;color:#2f2f37;letter-spacing:0.80px;left:705.40px;width:200px;text-align:center;">43/39/36/34</div>
<div class="t" style="top:680px;line-height:17px;color:#2f2f37;letter-spacing:0.80px;left:803.40px;width:200px;text-align:center;">45/41/39/37</div>
<div class="t" style="top:706px;line-height:17px;color:#2f2f37;letter-spacing:-0.02px;left:19.10px;">Диаметр дренажной трубы, мм</div>
<div class="t" style="top:706px;line-height:17px;color:#2f2f37;left:215.00px;width:200px;text-align:center;">16</div>
<div class="t" style="top:706px;line-height:17px;color:#2f2f37;left:313.00px;width:200px;text-align:center;">16</div>
<div class="t" style="top:706px;line-height:17px;color:#2f2f37;left:411.00px;width:200px;text-align:center;">16</div>
<div class="t" style="top:706px;line-height:17px;color:#2f2f37;left:509.00px;width:200px;text-align:center;">16</div>
<div class="t" style="top:706px;line-height:17px;color:#2f2f37;left:607.00px;width:200px;text-align:center;">16</div>
<div class="t" style="top:706px;line-height:17px;color:#2f2f37;left:705.00px;width:200px;text-align:center;">16</div>
<div class="t" style="top:706px;line-height:17px;color:#2f2f37;left:803.00px;width:200px;text-align:center;">16</div>
<div class="t" style="top:739px;line-height:17px;color:#2f2f37;left:19.10px;transform:scaleX(0.934);transform-origin:1px 0;">Размеры<br>(В х Ш х Г), мм</div>
<div class="t" style="top:734px;line-height:17px;color:#2f2f37;letter-spacing:0.01px;left:142.90px;">Без упаковки</div>
<div class="t" style="top:761px;line-height:17px;color:#2f2f37;letter-spacing:-0.28px;left:142.90px;">В упаковке</div>
<div class="t" style="top:734px;line-height:17px;color:#2f2f37;left:215.00px;width:200px;text-align:center;transform:scaleX(0.953);">285×700×188</div>
<div class="t" style="top:734px;line-height:17px;color:#2f2f37;left:313.00px;width:200px;text-align:center;transform:scaleX(0.953);">285×700×188</div>
<div class="t" style="top:734px;line-height:17px;color:#2f2f37;left:411.00px;width:200px;text-align:center;transform:scaleX(0.953);">300×800×197</div>
<div class="t" style="top:734px;line-height:17px;color:#2f2f37;left:509.00px;width:200px;text-align:center;transform:scaleX(0.953);">300×850×198</div>
<div class="t" style="top:734px;line-height:17px;color:#2f2f37;left:607.00px;width:200px;text-align:center;transform:scaleX(0.953);">315×970×235</div>
<div class="t" style="top:734px;line-height:17px;color:#2f2f37;left:705.00px;width:200px;text-align:center;transform:scaleX(0.944);">330×1100×235</div>
<div class="t" style="top:734px;line-height:17px;color:#2f2f37;left:803.00px;width:200px;text-align:center;transform:scaleX(0.944);">330×1100×235</div>
<div class="t" style="top:761px;line-height:17px;color:#2f2f37;left:215.00px;width:200px;text-align:center;transform:scaleX(0.953);">355×770×272</div>
<div class="t" style="top:761px;line-height:17px;color:#2f2f37;left:313.00px;width:200px;text-align:center;transform:scaleX(0.953);">355×770×272</div>
<div class="t" style="top:761px;line-height:17px;color:#2f2f37;left:411.00px;width:200px;text-align:center;transform:scaleX(0.953);">370×870×282</div>
<div class="t" style="top:761px;line-height:17px;color:#2f2f37;left:509.00px;width:200px;text-align:center;transform:scaleX(0.953);">355×885×255</div>
<div class="t" style="top:761px;line-height:17px;color:#2f2f37;left:607.00px;width:200px;text-align:center;transform:scaleX(0.933);">385×1047×317</div>
<div class="t" style="top:761px;line-height:17px;color:#2f2f37;left:705.00px;width:200px;text-align:center;transform:scaleX(0.944);">400×1180×317</div>
<div class="t" style="top:761px;line-height:17px;color:#2f2f37;left:803.00px;width:200px;text-align:center;transform:scaleX(0.944);">400×1180×317</div>
<div class="t" style="top:808px;line-height:17px;color:#2f2f37;letter-spacing:-0.13px;left:19.10px;">Вес, кг</div>
<div class="t" style="top:791px;line-height:17px;color:#2f2f37;letter-spacing:0.01px;left:142.90px;">Без упаковки</div>
<div class="t" style="top:824px;line-height:17px;color:#2f2f37;letter-spacing:-0.28px;left:142.90px;">В упаковке</div>
<div class="t" style="top:791px;line-height:17px;color:#2f2f37;letter-spacing:-0.20px;left:214.90px;width:200px;text-align:center;">8</div>
<div class="t" style="top:791px;line-height:17px;color:#2f2f37;letter-spacing:-0.20px;left:312.90px;width:200px;text-align:center;">8,5</div>
<div class="t" style="top:791px;line-height:17px;color:#2f2f37;letter-spacing:-0.20px;left:410.90px;width:200px;text-align:center;">10</div>
<div class="t" style="top:791px;line-height:17px;color:#2f2f37;letter-spacing:-0.20px;left:508.90px;width:200px;text-align:center;">11</div>
<div class="t" style="top:791px;line-height:17px;color:#2f2f37;letter-spacing:-0.20px;left:606.90px;width:200px;text-align:center;">15</div>
<div class="t" style="top:791px;line-height:17px;color:#2f2f37;letter-spacing:-0.20px;left:704.90px;width:200px;text-align:center;">16</div>
<div class="t" style="top:791px;line-height:17px;color:#2f2f37;letter-spacing:-0.20px;left:802.90px;width:200px;text-align:center;">23</div>
<div class="t" style="top:825px;line-height:17px;color:#2f2f37;letter-spacing:-0.20px;left:214.90px;width:200px;text-align:center;">9,65</div>
<div class="t" style="top:825px;line-height:17px;color:#2f2f37;letter-spacing:-0.20px;left:312.90px;width:200px;text-align:center;">10,15</div>
<div class="t" style="top:825px;line-height:17px;color:#2f2f37;letter-spacing:-0.20px;left:410.90px;width:200px;text-align:center;">11,8</div>
<div class="t" style="top:825px;line-height:17px;color:#2f2f37;letter-spacing:-0.20px;left:508.90px;width:200px;text-align:center;">13,3</div>
<div class="t" style="top:825px;line-height:17px;color:#2f2f37;letter-spacing:-0.20px;left:606.90px;width:200px;text-align:center;">17,3</div>
<div class="t" style="top:825px;line-height:17px;color:#2f2f37;letter-spacing:-0.20px;left:704.90px;width:200px;text-align:center;">19</div>
<div class="t" style="top:825px;line-height:17px;color:#2f2f37;letter-spacing:-0.20px;left:802.90px;width:200px;text-align:center;">26</div>
<div class="t" style="top:857px;line-height:17px;color:#ffffff;font-size:15px;letter-spacing:0.17px;left:19.10px;">Наружный блок</div>
<div class="t" style="top:856px;line-height:17px;color:#ffffff;font-size:15px;letter-spacing:-0.27px;left:214.86px;width:200px;text-align:center;">SAU07B2-A</div>
<div class="t" style="top:856px;line-height:17px;color:#ffffff;font-size:15px;letter-spacing:-0.27px;left:312.86px;width:200px;text-align:center;">SAU09B2-A</div>
<div class="t" style="top:856px;line-height:17px;color:#ffffff;font-size:15px;letter-spacing:-0.27px;left:410.86px;width:200px;text-align:center;">SAU12B2-A</div>
<div class="t" style="top:856px;line-height:17px;color:#ffffff;font-size:15px;letter-spacing:-0.27px;left:508.86px;width:200px;text-align:center;">SAU18B2-A</div>
<div class="t" style="top:856px;line-height:17px;color:#ffffff;font-size:15px;letter-spacing:-0.27px;left:606.86px;width:200px;text-align:center;">SAU24B2-A</div>
<div class="t" style="top:856px;line-height:17px;color:#ffffff;font-size:15px;letter-spacing:-0.27px;left:704.86px;width:200px;text-align:center;">SAU30B2-A</div>
<div class="t" style="top:856px;line-height:17px;color:#ffffff;font-size:15px;letter-spacing:-0.27px;left:802.86px;width:200px;text-align:center;">SAU36B2-A</div>
<div class="t" style="top:890px;line-height:17px;color:#2f2f37;left:19.10px;">Расход воздуха, м<sup>3</sup>/ч</div>
<div class="t" style="top:890px;line-height:17px;color:#2f2f37;left:215.00px;width:200px;text-align:center;">1040</div>
<div class="t" style="top:890px;line-height:17px;color:#2f2f37;left:313.00px;width:200px;text-align:center;">1430</div>
<div class="t" style="top:890px;line-height:17px;color:#2f2f37;left:411.00px;width:200px;text-align:center;">1430</div>
<div class="t" style="top:890px;line-height:17px;color:#2f2f37;left:509.00px;width:200px;text-align:center;">2340</div>
<div class="t" style="top:890px;line-height:17px;color:#2f2f37;left:607.00px;width:200px;text-align:center;">2600</div>
<div class="t" style="top:890px;line-height:17px;color:#2f2f37;left:705.00px;width:200px;text-align:center;">2600</div>
<div class="t" style="top:890px;line-height:17px;color:#2f2f37;left:803.00px;width:200px;text-align:center;">2600</div>
<div class="t" style="top:923px;line-height:17px;color:#2f2f37;letter-spacing:-0.25px;left:19.10px;">Уровень звукового давления, дБ(А)</div>
<div class="t" style="top:923px;line-height:17px;color:#2f2f37;left:215.00px;width:200px;text-align:center;">48</div>
<div class="t" style="top:923px;line-height:17px;color:#2f2f37;left:313.00px;width:200px;text-align:center;">50</div>
<div class="t" style="top:923px;line-height:17px;color:#2f2f37;left:411.00px;width:200px;text-align:center;">52</div>
<div class="t" style="top:923px;line-height:17px;color:#2f2f37;left:509.00px;width:200px;text-align:center;">54</div>
<div class="t" style="top:923px;line-height:17px;color:#2f2f37;left:607.00px;width:200px;text-align:center;">55</div>
<div class="t" style="top:923px;line-height:17px;color:#2f2f37;left:705.00px;width:200px;text-align:center;">58</div>
<div class="t" style="top:923px;line-height:17px;color:#2f2f37;left:803.00px;width:200px;text-align:center;">58</div>
<div class="t" style="top:957px;line-height:16.5px;color:#2f2f37;left:19.10px;transform:scaleX(0.945);transform-origin:1px 0;">Гарантирован-<br>ный диапазон<br>рабочих темпе-<br>ратур&nbsp; наружно-<br>го воздуха, °С</div>
<div class="t" style="top:957px;line-height:17px;color:#2f2f37;letter-spacing:-0.22px;left:142.90px;">Охлаждение</div>
<div class="t" style="top:1004px;line-height:17px;color:#2f2f37;letter-spacing:-0.09px;left:142.90px;">Обогрев</div>
<div class="t" style="top:957px;line-height:17px;color:#2f2f37;letter-spacing:-0.18px;left:509.01px;width:200px;text-align:center;">+10 ~ +43</div>
<div class="t" style="top:995px;line-height:17px;color:#2f2f37;letter-spacing:-0.13px;left:508.93px;width:200px;text-align:center;">-7 ~ +24</div>
<div class="t" style="top:1012px;line-height:17px;color:#2f2f37;letter-spacing:0.16px;left:350.20px;">(-25 ~ +24 для моделей, доработанных низкотемпературным комплектом)</div>
<div class="t" style="top:1049px;line-height:17px;color:#2f2f37;left:19.10px;transform:scaleX(0.930);transform-origin:1px 0;">Заводская заправка хладагента<br>R410a (до 5 м), г</div>
<div class="t" style="top:1057px;line-height:17px;color:#2f2f37;left:215.00px;width:200px;text-align:center;">500</div>
<div class="t" style="top:1057px;line-height:17px;color:#2f2f37;left:313.00px;width:200px;text-align:center;">640</div>
<div class="t" style="top:1057px;line-height:17px;color:#2f2f37;left:411.00px;width:200px;text-align:center;">660</div>
<div class="t" style="top:1057px;line-height:17px;color:#2f2f37;left:509.00px;width:200px;text-align:center;">1150</div>
<div class="t" style="top:1057px;line-height:17px;color:#2f2f37;left:607.00px;width:200px;text-align:center;">1500</div>
<div class="t" style="top:1057px;line-height:17px;color:#2f2f37;left:705.00px;width:200px;text-align:center;">2550</div>
<div class="t" style="top:1057px;line-height:17px;color:#2f2f37;left:803.00px;width:200px;text-align:center;">2110</div>
<div class="t" style="top:1093px;line-height:17px;color:#2f2f37;letter-spacing:-0.29px;left:19.10px;">Дополнительная заправка хлада-<br>гента, г/м</div>
<div class="t" style="top:1101px;line-height:17px;color:#2f2f37;left:215.00px;width:200px;text-align:center;">20</div>
<div class="t" style="top:1101px;line-height:17px;color:#2f2f37;left:313.00px;width:200px;text-align:center;">20</div>
<div class="t" style="top:1101px;line-height:17px;color:#2f2f37;left:411.00px;width:200px;text-align:center;">20</div>
<div class="t" style="top:1101px;line-height:17px;color:#2f2f37;left:509.00px;width:200px;text-align:center;">30</div>
<div class="t" style="top:1101px;line-height:17px;color:#2f2f37;left:607.00px;width:200px;text-align:center;">30</div>
<div class="t" style="top:1101px;line-height:17px;color:#2f2f37;left:705.00px;width:200px;text-align:center;">30</div>
<div class="t" style="top:1101px;line-height:17px;color:#2f2f37;left:803.00px;width:200px;text-align:center;">30</div>
<div class="t" style="top:1147px;line-height:17px;color:#2f2f37;left:19.10px;transform:scaleX(0.934);transform-origin:1px 0;">Размеры<br>(В х Ш х Г), мм</div>
<div class="t" style="top:1139px;line-height:17px;color:#2f2f37;letter-spacing:0.01px;left:142.90px;">Без упаковки</div>
<div class="t" style="top:1172px;line-height:17px;color:#2f2f37;letter-spacing:-0.28px;left:142.90px;">В упаковке</div>
<div class="t" style="top:1139px;line-height:17px;color:#2f2f37;left:215.00px;width:200px;text-align:center;transform:scaleX(0.953);">421×708×254</div>
<div class="t" style="top:1139px;line-height:17px;color:#2f2f37;left:313.00px;width:200px;text-align:center;transform:scaleX(0.953);">500×710×240</div>
<div class="t" style="top:1139px;line-height:17px;color:#2f2f37;left:411.00px;width:200px;text-align:center;transform:scaleX(0.953);">500×710×240</div>
<div class="t" style="top:1139px;line-height:17px;color:#2f2f37;left:509.00px;width:200px;text-align:center;transform:scaleX(0.953);">525×855×290</div>
<div class="t" style="top:1139px;line-height:17px;color:#2f2f37;left:607.00px;width:200px;text-align:center;transform:scaleX(0.953);">655×880×310</div>
<div class="t" style="top:1139px;line-height:17px;color:#2f2f37;left:705.00px;width:200px;text-align:center;transform:scaleX(0.953);">690×800×310</div>
<div class="t" style="top:1139px;line-height:17px;color:#2f2f37;left:803.00px;width:200px;text-align:center;transform:scaleX(0.953);">700×950×350</div>
<div class="t" style="top:1173px;line-height:17px;color:#2f2f37;left:215.00px;width:200px;text-align:center;transform:scaleX(0.953);">478×770×338</div>
<div class="t" style="top:1173px;line-height:17px;color:#2f2f37;left:313.00px;width:200px;text-align:center;transform:scaleX(0.953);">570×780×345</div>
<div class="t" style="top:1173px;line-height:17px;color:#2f2f37;left:411.00px;width:200px;text-align:center;transform:scaleX(0.953);">570×780×345</div>
<div class="t" style="top:1173px;line-height:17px;color:#2f2f37;left:509.00px;width:200px;text-align:center;transform:scaleX(0.953);">620×920×400</div>
<div class="t" style="top:1173px;line-height:17px;color:#2f2f37;left:607.00px;width:200px;text-align:center;transform:scaleX(0.953);">725×945×435</div>
<div class="t" style="top:1173px;line-height:17px;color:#2f2f37;left:705.00px;width:200px;text-align:center;transform:scaleX(0.953);">725×945×435</div>
<div class="t" style="top:1173px;line-height:17px;color:#2f2f37;left:803.00px;width:200px;text-align:center;transform:scaleX(0.933);">770×1020×430</div>
<div class="t" style="top:1215px;line-height:17px;color:#2f2f37;letter-spacing:-0.13px;left:19.10px;">Вес, кг</div>
<div class="t" style="top:1203px;line-height:17px;color:#2f2f37;letter-spacing:0.01px;left:142.90px;">Без упаковки</div>
<div class="t" style="top:1230px;line-height:17px;color:#2f2f37;letter-spacing:-0.28px;left:142.90px;">В упаковке</div>
<div class="t" style="top:1203px;line-height:17px;color:#2f2f37;letter-spacing:-0.20px;left:214.90px;width:200px;text-align:center;">21,5</div>
<div class="t" style="top:1203px;line-height:17px;color:#2f2f37;letter-spacing:-0.20px;left:312.90px;width:200px;text-align:center;">25</div>
<div class="t" style="top:1203px;line-height:17px;color:#2f2f37;letter-spacing:-0.20px;left:410.90px;width:200px;text-align:center;">25</div>
<div class="t" style="top:1203px;line-height:17px;color:#2f2f37;letter-spacing:-0.20px;left:508.90px;width:200px;text-align:center;">38</div>
<div class="t" style="top:1203px;line-height:17px;color:#2f2f37;letter-spacing:-0.20px;left:606.90px;width:200px;text-align:center;">44</div>
<div class="t" style="top:1203px;line-height:17px;color:#2f2f37;letter-spacing:-0.20px;left:704.90px;width:200px;text-align:center;">50</div>
<div class="t" style="top:1203px;line-height:17px;color:#2f2f37;letter-spacing:-0.20px;left:802.90px;width:200px;text-align:center;">57</div>
<div class="t" style="top:1230px;line-height:17px;color:#2f2f37;letter-spacing:-0.20px;left:214.90px;width:200px;text-align:center;">24</div>
<div class="t" style="top:1230px;line-height:17px;color:#2f2f37;letter-spacing:-0.20px;left:312.90px;width:200px;text-align:center;">27,65</div>
<div class="t" style="top:1230px;line-height:17px;color:#2f2f37;letter-spacing:-0.20px;left:410.90px;width:200px;text-align:center;">27,9</div>
<div class="t" style="top:1230px;line-height:17px;color:#2f2f37;letter-spacing:-0.20px;left:508.90px;width:200px;text-align:center;">41,7</div>
<div class="t" style="top:1230px;line-height:17px;color:#2f2f37;letter-spacing:-0.20px;left:606.90px;width:200px;text-align:center;">48,2</div>
<div class="t" style="top:1230px;line-height:17px;color:#2f2f37;letter-spacing:-0.20px;left:704.90px;width:200px;text-align:center;">54</div>
<div class="t" style="top:1230px;line-height:17px;color:#2f2f37;letter-spacing:-0.20px;left:802.90px;width:200px;text-align:center;">63</div>
<svg class="wm" width="967" height="1277" viewBox="0 0 967 1277"><g font-family="Liberation Sans" font-weight="normal" font-size="27" text-anchor="middle" dominant-baseline="middle" fill="none" stroke="#c4c4c4" stroke-width="1.3" stroke-opacity="0.32"><text x="0" y="0" transform="translate(145.0,124.0) rotate(-17) skewX(-14)">VTC.BY</text><text x="0" y="0" transform="translate(356.0,124.0) rotate(-17) skewX(-14)">VTC.BY</text><text x="0" y="0" transform="translate(567.0,124.0) rotate(-17) skewX(-14)">VTC.BY</text><text x="0" y="0" transform="translate(778.0,124.0) rotate(-17) skewX(-14)">VTC.BY</text><text x="0" y="0" transform="translate(989.0,124.0) rotate(-17) skewX(-14)">VTC.BY</text><text x="0" y="0" transform="translate(146.9,243.7) rotate(-17) skewX(-14)">VTC.BY</text><text x="0" y="0" transform="translate(357.9,243.7) rotate(-17) skewX(-14)">VTC.BY</text><text x="0" y="0" transform="translate(568.9,243.7) rotate(-17) skewX(-14)">VTC.BY</text><text x="0" y="0" transform="translate(779.9,243.7) rotate(-17) skewX(-14)">VTC.BY</text><text x="0" y="0" transform="translate(990.9,243.7) rotate(-17) skewX(-14)">VTC.BY</text><text x="0" y="0" transform="translate(148.8,363.4) rotate(-17) skewX(-14)">VTC.BY</text><text x="0" y="0" transform="translate(359.8,363.4) rotate(-17) skewX(-14)">VTC.BY</text><text x="0" y="0" transform="translate(570.8,363.4) rotate(-17) skewX(-14)">VTC.BY</text><text x="0" y="0" transform="translate(781.8,363.4) rotate(-17) skewX(-14)">VTC.BY</text><text x="0" y="0" transform="translate(992.8,363.4) rotate(-17) skewX(-14)">VTC.BY</text><text x="0" y="0" transform="translate(150.7,483.1) rotate(-17) skewX(-14)">VTC.BY</text><text x="0" y="0" transform="translate(361.7,483.1) rotate(-17) skewX(-14)">VTC.BY</text><text x="0" y="0" transform="translate(572.7,483.1) rotate(-17) skewX(-14)">VTC.BY</text><text x="0" y="0" transform="translate(783.7,483.1) rotate(-17) skewX(-14)">VTC.BY</text><text x="0" y="0" transform="translate(994.7,483.1) rotate(-17) skewX(-14)">VTC.BY</text><text x="0" y="0" transform="translate(152.7,602.8) rotate(-17) skewX(-14)">VTC.BY</text><text x="0" y="0" transform="translate(363.7,602.8) rotate(-17) skewX(-14)">VTC.BY</text><text x="0" y="0" transform="translate(574.7,602.8) rotate(-17) skewX(-14)">VTC.BY</text><text x="0" y="0" transform="translate(785.7,602.8) rotate(-17) skewX(-14)">VTC.BY</text><text x="0" y="0" transform="translate(996.7,602.8) rotate(-17) skewX(-14)">VTC.BY</text><text x="0" y="0" transform="translate(154.6,722.5) rotate(-17) skewX(-14)">VTC.BY</text><text x="0" y="0" transform="translate(365.6,722.5) rotate(-17) skewX(-14)">VTC.BY</text><text x="0" y="0" transform="translate(576.6,722.5) rotate(-17) skewX(-14)">VTC.BY</text><text x="0" y="0" transform="translate(787.6,722.5) rotate(-17) skewX(-14)">VTC.BY</text><text x="0" y="0" transform="translate(998.6,722.5) rotate(-17) skewX(-14)">VTC.BY</text><text x="0" y="0" transform="translate(156.5,842.2) rotate(-17) skewX(-14)">VTC.BY</text><text x="0" y="0" transform="translate(367.5,842.2) rotate(-17) skewX(-14)">VTC.BY</text><text x="0" y="0" transform="translate(578.5,842.2) rotate(-17) skewX(-14)">VTC.BY</text><text x="0" y="0" transform="translate(789.5,842.2) rotate(-17) skewX(-14)">VTC.BY</text><text x="0" y="0" transform="translate(1000.5,842.2) rotate(-17) skewX(-14)">VTC.BY</text><text x="0" y="0" transform="translate(158.4,961.9) rotate(-17) skewX(-14)">VTC.BY</text><text x="0" y="0" transform="translate(369.4,961.9) rotate(-17) skewX(-14)">VTC.BY</text><text x="0" y="0" transform="translate(580.4,961.9) rotate(-17) skewX(-14)">VTC.BY</text><text x="0" y="0" transform="translate(791.4,961.9) rotate(-17) skewX(-14)">VTC.BY</text><text x="0" y="0" transform="translate(1002.4,961.9) rotate(-17) skewX(-14)">VTC.BY</text><text x="0" y="0" transform="translate(160.3,1081.6) rotate(-17) skewX(-14)">VTC.BY</text><text x="0" y="0" transform="translate(371.3,1081.6) rotate(-17) skewX(-14)">VTC.BY</text><text x="0" y="0" transform="translate(582.3,1081.6) rotate(-17) skewX(-14)">VTC.BY</text><text x="0" y="0" transform="translate(793.3,1081.6) rotate(-17) skewX(-14)">VTC.BY</text><text x="0" y="0" transform="translate(1004.3,1081.6) rotate(-17) skewX(-14)">VTC.BY</text><text x="0" y="0" transform="translate(162.2,1201.3) rotate(-17) skewX(-14)">VTC.BY</text><text x="0" y="0" transform="translate(373.2,1201.3) rotate(-17) skewX(-14)">VTC.BY</text><text x="0" y="0" transform="translate(584.2,1201.3) rotate(-17) skewX(-14)">VTC.BY</text><text x="0" y="0" transform="translate(795.2,1201.3) rotate(-17) skewX(-14)">VTC.BY</text><text x="0" y="0" transform="translate(1006.2,1201.3) rotate(-17) skewX(-14)">VTC.BY</text></g></svg>
</body></html>
